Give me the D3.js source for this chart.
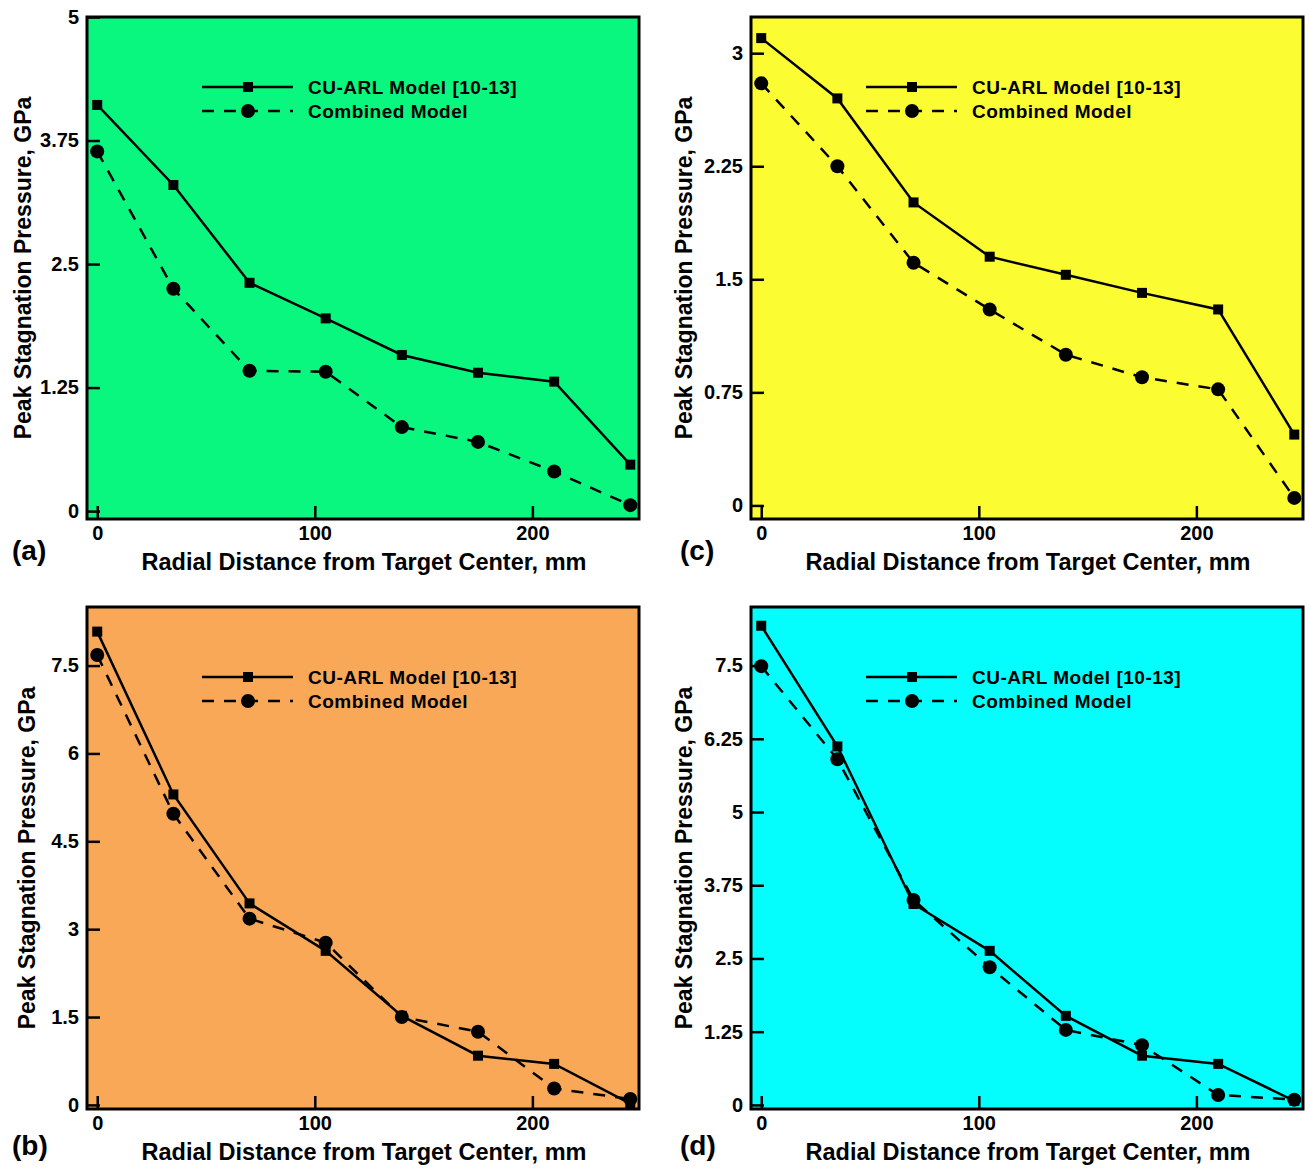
<!DOCTYPE html>
<html>
<head>
<meta charset="UTF-8">
<script src="https://d3js.org/d3.v7.min.js"></script>
<style>
  body { margin: 0; background: #fff; }
  text { font-family: "Liberation Sans", Arial, sans-serif; font-weight: bold; fill: #000; }
</style>
</head>
<body>
<div id="fig"></div>
<script>
// radial distance of every point, mm
const distances = [0, 35, 70, 105, 140, 175, 210, 245];

// peak stagnation pressure, GPa
const cuArlA = [4.11, 3.30, 2.31, 1.95, 1.58, 1.40, 1.31, 0.47];
const combinedA = [3.64, 2.25, 1.42, 1.41, 0.85, 0.70, 0.40, 0.06];
const cuArlB = [8.08, 5.30, 3.44, 2.63, 1.52, 0.84, 0.70, 0.02];
const combinedB = [7.68, 4.97, 3.18, 2.77, 1.50, 1.25, 0.28, 0.10];
const cuArlC = [3.10, 2.70, 2.01, 1.65, 1.53, 1.41, 1.30, 0.47];
const combinedC = [2.80, 2.25, 1.61, 1.30, 1.00, 0.85, 0.77, 0.05];
const cuArlD = [8.18, 6.12, 3.43, 2.63, 1.52, 0.84, 0.70, 0.07];
const combinedD = [7.49, 5.90, 3.50, 2.35, 1.28, 1.02, 0.17, 0.09];

const xTicks = [0, 100, 200];
const yTicksA = [0, 1.25, 2.5, 3.75, 5];
const yTicksB = [0, 1.5, 3, 4.5, 6, 7.5];
const yTicksC = [0, 0.75, 1.5, 2.25, 3];
const yTicksD = [0, 1.25, 2.5, 3.75, 5, 6.25, 7.5];

const seriesNames = ["CU-ARL Model [10-13]", "Combined Model"];
const xTitle = "Radial Distance from Target Center, mm";
const yTitle = "Peak Stagnation Pressure, GPa";

const W = 1309, H = 1169;
const svg = d3.select("#fig").append("svg").attr("width", W).attr("height", H);

const panels = [
  { tag: "(a)", left: 87, top: 17, fill: "#0af77f", cu: cuArlA, comb: combinedA, ticks: yTicksA, yDom: [-0.08, 5.0], ytx: -56, tagX: -75, tagY: 41 },
  { tag: "(b)", left: 87, top: 607, fill: "#f9a857", cu: cuArlB, comb: combinedB, ticks: yTicksB, yDom: [-0.07, 8.5], ytx: -52, tagX: -75, tagY: 46 },
  { tag: "(c)", left: 751, top: 17, fill: "#fcfc33", cu: cuArlC, comb: combinedC, ticks: yTicksC, yDom: [-0.09, 3.24], ytx: -59, tagX: -71, tagY: 41 },
  { tag: "(d)", left: 751, top: 607, fill: "#04fdfd", cu: cuArlD, comb: combinedD, ticks: yTicksD, yDom: [-0.07, 8.5], ytx: -59, tagX: -71, tagY: 46 }
];

const pw = 552, ph = 502;

panels.forEach(p => {
  const g = svg.append("g").attr("transform", `translate(${p.left},${p.top})`);
  const x = d3.scaleLinear().domain([-4.7, 249]).range([0, pw]);
  const y = d3.scaleLinear().domain(p.yDom).range([ph, 0]);

  g.append("rect").attr("width", pw).attr("height", ph).attr("fill", p.fill);

  // inward ticks
  const yAxis = g.append("g")
    .call(d3.axisLeft(y).tickValues(p.ticks).tickSize(-13).tickPadding(8)
      .tickFormat(d => d3.format("")(d)));
  const xAxis = g.append("g").attr("transform", `translate(0,${ph})`)
    .call(d3.axisBottom(x).tickValues(xTicks).tickSize(-13).tickPadding(7));
  [xAxis, yAxis].forEach(a => {
    a.attr("font-size", null).attr("font-family", null);
    a.select(".domain").remove();
    a.selectAll("line").attr("stroke", "#000").attr("stroke-width", 2.5);
    a.selectAll("text").style("font-size", "20px").attr("fill", "#000");
  });

  const line = d3.line().x((d, i) => x(distances[i])).y(d => y(d));

  g.append("path").datum(p.cu).attr("d", line)
    .attr("fill", "none").attr("stroke", "#000").attr("stroke-width", 2.5);
  g.append("path").datum(p.comb).attr("d", line)
    .attr("fill", "none").attr("stroke", "#000").attr("stroke-width", 2.5)
    .attr("stroke-dasharray", "12,10");

  g.selectAll(".sq").data(p.cu).enter().append("rect")
    .attr("x", (d, i) => x(distances[i]) - 5).attr("y", d => y(d) - 5)
    .attr("width", 10).attr("height", 10).attr("fill", "#000");
  g.selectAll(".dot").data(p.comb).enter().append("circle")
    .attr("cx", (d, i) => x(distances[i])).attr("cy", d => y(d))
    .attr("r", 7).attr("fill", "#000");

  // frame
  g.append("rect").attr("width", pw).attr("height", ph)
    .attr("fill", "none").attr("stroke", "#000").attr("stroke-width", 3);

  // legend
  const lg = g.append("g").attr("transform", "translate(115,70)");
  seriesNames.forEach((name, i) => {
    const row = lg.append("g").attr("transform", `translate(0,${i * 24})`);
    row.append("line").attr("x1", 0).attr("x2", 91).attr("y1", 0).attr("y2", 0)
      .attr("stroke", "#000").attr("stroke-width", 2.5)
      .attr("stroke-dasharray", i === 0 ? null : "12,10");
    if (i === 0) {
      row.append("rect").attr("x", 41).attr("y", -5).attr("width", 10).attr("height", 10).attr("fill", "#000");
    } else {
      row.append("circle").attr("cx", 46).attr("cy", 0).attr("r", 7).attr("fill", "#000");
    }
    row.append("text").attr("x", 106).attr("y", 0).attr("dy", "0.35em")
      .attr("font-size", 19).attr("letter-spacing", 0.5).text(name);
  });

  // axis titles
  g.append("text").attr("x", pw / 2 + 1).attr("y", ph + 51)
    .attr("text-anchor", "middle").attr("font-size", 23.5).text(xTitle);
  g.append("text").attr("transform", `translate(${p.ytx},${ph / 2}) rotate(-90)`)
    .attr("text-anchor", "middle").attr("font-size", 23).text(yTitle);
  g.append("text").attr("x", p.tagX).attr("y", ph + p.tagY)
    .attr("font-size", 28).text(p.tag);
});
</script>
</body>
</html>
